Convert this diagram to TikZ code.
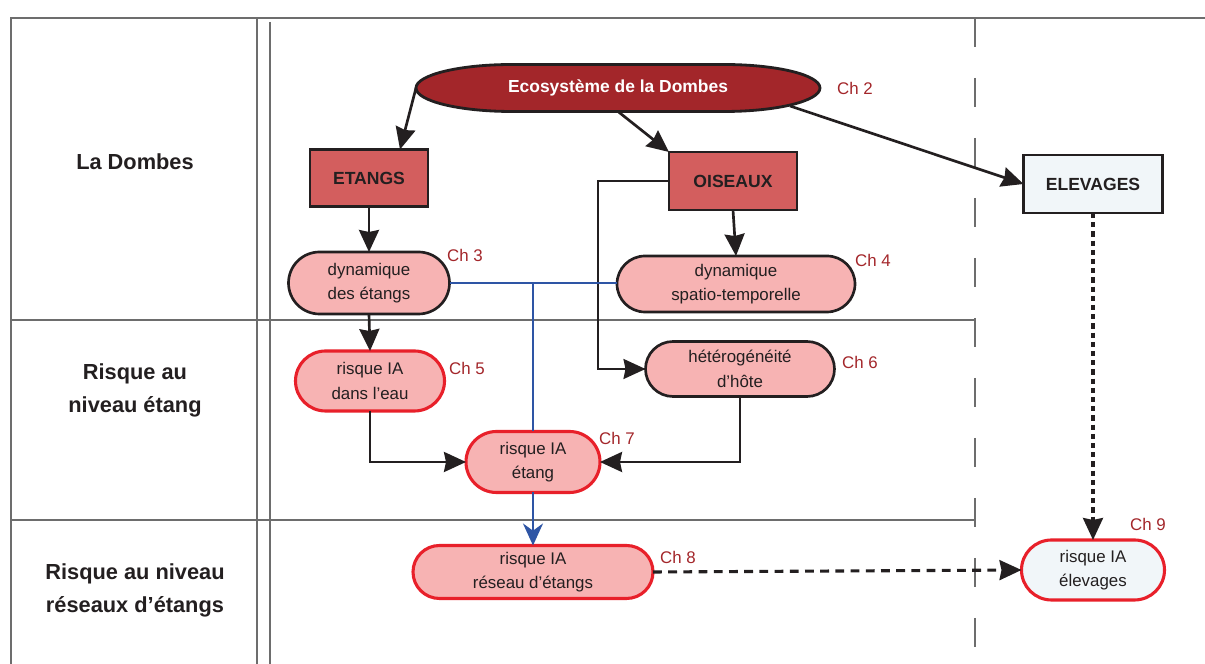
\documentclass[tikz,border=0pt]{standalone}
\usepackage{fontspec}
\setmainfont{Liberation Sans}
\usetikzlibrary{shapes.misc,arrows.meta,backgrounds}

\definecolor{ecored}{HTML}{A3262A}
\definecolor{boxred}{HTML}{D35E5E}
\definecolor{pinkfill}{HTML}{F7B3B3}
\definecolor{paleblue}{HTML}{F1F6F9}
\definecolor{alertred}{HTML}{E8202A}
\definecolor{linkblue}{HTML}{2E55A5}
\definecolor{framegray}{HTML}{6D6D6D}
\definecolor{inkdark}{HTML}{231F20}

\tikzset{
  cadre/.style={draw=framegray,line width=2pt},
  titre/.style={font=\fontsize{15.5}{23.5}\selectfont\bfseries,align=center,text=inkdark},
  boite/.style={draw=inkdark,line width=2pt,font=\fontsize{12.5}{15}\selectfont\bfseries,text=inkdark,inner sep=0pt,outer sep=0pt},
  bulle/.style={rounded rectangle,draw=inkdark,fill=pinkfill,line width=1.9pt,font=\fontsize{12}{17.5}\selectfont,align=center,text=inkdark,inner sep=0pt,outer sep=0pt},
  risque/.style={bulle,draw=alertred,line width=2.2pt},
  chap/.style={text=ecored,font=\fontsize{12}{14}\selectfont},
  fleche/.style={-{Stealth[length=0.55cm,width=0.5cm,inset=0.05cm]},line width=1.9pt,draw=inkdark},
  lienbleu/.style={line width=1.8pt,draw=linkblue},
}

\begin{document}
\begin{tikzpicture}
\useasboundingbox (0,0) rectangle (30.125,16.6);

% cadre
\draw[cadre] (30.125,16.15) -- (0.275,16.15) -- (0.275,0);
\draw[cadre] (6.425,16.15) -- (6.425,0);
\draw[cadre] (6.75,16.05) -- (6.75,0);
\draw[cadre] (0.275,8.6) -- (24.375,8.6);
\draw[cadre] (0.275,3.6) -- (24.375,3.6);
\draw[cadre,dash pattern=on 0.725cm off 0.775cm] (24.375,16.15) -- (24.375,0);

% titres des lignes
\node[titre] (t1) at (3.375,12.55) {La Dombes};
\node[titre] (t2) at (3.375,6.85) {Risque au\\niveau étang};
\node[titre] (t3) at (3.375,1.85) {Risque au niveau\\réseaux d’étangs};

% noeuds
\node[inner sep=0pt,outer sep=0pt,minimum width=10.1cm,minimum height=1.175cm,text=white,font=\fontsize{12.4}{15}\selectfont\bfseries] (eco) at (15.45,14.4) {Ecosystème de la Dombes};
\begin{scope}[on background layer]
\draw[fill=ecored,draw=inkdark,line width=2pt] ([xshift=2.4cm]eco.north west) -- ([xshift=-2.4cm]eco.north east)
  arc[start angle=90,end angle=-90,x radius=2.4cm,y radius=0.5875cm] -- ([xshift=2.4cm]eco.south west)
  arc[start angle=270,end angle=90,x radius=2.4cm,y radius=0.5875cm] -- cycle;
\end{scope}

\node[boite,fill=boxred,minimum width=2.95cm,minimum height=1.425cm] (etangs) at (9.225,12.15) {ETANGS};
\node[boite,fill=boxred,minimum width=3.2cm,minimum height=1.45cm] (oiseaux) at (18.325,12.075) {OISEAUX};
\node[boite,fill=paleblue,minimum width=3.475cm,minimum height=1.45cm] (elevages) at (27.325,12.0) {ELEVAGES};

\node[bulle,minimum width=4.025cm,minimum height=1.55cm] (dynet) at (9.225,9.525) {dynamique\\des étangs};
\node[bulle,minimum width=5.95cm,minimum height=1.4cm] (dynsp) at (18.4,9.5) {dynamique\\spatio-temporelle};
\node[risque,minimum width=3.725cm,minimum height=1.5cm] (eau) at (9.25,7.075) {risque IA\\dans l'eau};
\node[bulle,minimum width=4.725cm,minimum height=1.375cm] (hetero) at (18.5,7.375) {hétérogénéité\\d'hôte};
\node[risque,minimum width=3.35cm,minimum height=1.525cm] (etang) at (13.325,5.05) {risque IA\\étang};
\node[risque,minimum width=6.0cm,minimum height=1.325cm] (reseau) at (13.325,2.3) {risque IA\\réseau d'étangs};
\node[risque,fill=paleblue,minimum width=3.575cm,minimum height=1.5cm] (elevia) at (27.325,2.35) {risque IA\\élevages};

% chapitres
\node[chap] (ch2) at (21.375,14.4) {Ch 2};
\node[chap] (ch3) at (11.625,10.225) {Ch 3};
\node[chap] (ch4) at (21.825,10.1) {Ch 4};
\node[chap] (ch5) at (11.675,7.4) {Ch 5};
\node[chap] (ch6) at (21.5,7.55) {Ch 6};
\node[chap] (ch7) at (15.425,5.65) {Ch 7};
\node[chap] (ch8) at (16.95,2.675) {Ch 8};
\node[chap] (ch9) at (28.7,3.5) {Ch 9};

% liens
\draw[fleche] (eco.west) -- ([xshift=0.775cm]etangs.north);
\draw[fleche] (eco.south) -- (oiseaux.north west);
\draw[fleche] ([xshift=-0.75cm,yshift=-0.45cm]eco.east) -- (elevages.west);
\draw[fleche] (etangs.south) -- (dynet.north);
\draw[fleche] (oiseaux.south) -- (dynsp.north);
\draw[fleche,line width=1.4pt] (oiseaux.west) -- ++(-1.775,0) |- (hetero.west);
\draw[fleche] (dynet.south) -- (eau.north);
\draw[fleche] (eau.south) |- (etang.west);
\draw[fleche] (hetero.south) |- (etang.east);

\draw[lienbleu] (dynet.east) -- (dynet.east -| dynsp.west);
\draw[lienbleu] (etang.north) -- (etang.north |- dynet.east);
\draw[lienbleu,-{Stealth[length=0.55cm,width=0.5cm,inset=0.18cm]}] (etang.south) -- (reseau.north);

\draw[fleche,line width=2.2pt,dash pattern=on 0.22cm off 0.16cm] (reseau.east) -- (elevia.west);
\draw[fleche,line width=2.2pt,dash pattern=on 0.13cm off 0.1cm] (elevages.south) -- (elevia.north);
\end{tikzpicture}
\end{document}
